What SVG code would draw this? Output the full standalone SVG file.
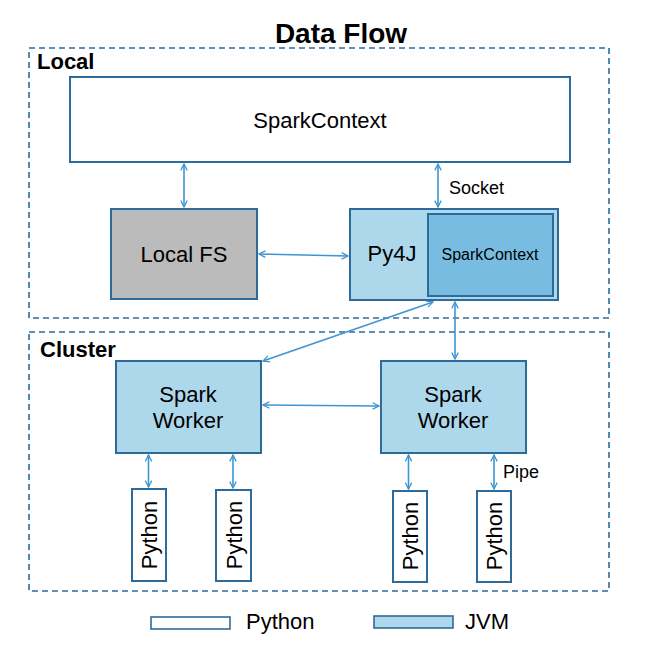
<svg xmlns="http://www.w3.org/2000/svg" width="647" height="646" viewBox="0 0 647 646">
<style>
text{font-family:"Liberation Sans",Arial,sans-serif;fill:#000}
.t22{font-size:22px;text-anchor:middle}
.b22{font-size:22px;font-weight:bold}
.lbl{font-size:18px}
.box{stroke:#2f6b9a;stroke-width:2}
.py{fill:#fff}
.jvm{fill:#add8ec}
.dash{fill:none;stroke:#2f6b9a;stroke-width:1.6;stroke-dasharray:6,4}
.conn{stroke:#3e95d1;stroke-width:1.6;fill:none;marker-start:url(#ah);marker-end:url(#ah)}
</style>
<defs>
<marker id="ah" viewBox="0 0 10 10" refX="9" refY="5" markerWidth="8" markerHeight="8" markerUnits="userSpaceOnUse" orient="auto-start-reverse">
<path d="M1,1 L9,5 L1,9" fill="none" stroke="#3e95d1" stroke-width="1.6"/>
</marker>
</defs>
<rect width="647" height="646" fill="#fff"/>
<text x="341" y="43" style="font-size:28px;font-weight:bold;text-anchor:middle">Data Flow</text>
<g id="local-group">
<rect class="dash" x="29" y="48" width="580" height="270"/>
<text class="b22" x="37" y="69">Local</text>
</g>
<g id="cluster-group">
<rect class="dash" x="29" y="332" width="580" height="259"/>
<text class="b22" x="40" y="357">Cluster</text>
</g>
<g id="sparkcontext-py">
<rect class="box py" x="70" y="77" width="500" height="85"/>
<text class="t22" x="320" y="128">SparkContext</text>
</g>
<g id="local-fs">
<rect class="box" fill="#bbbbbb" x="111" y="209" width="146" height="90"/>
<text class="t22" x="184" y="262">Local FS</text>
</g>
<g id="py4j">
<rect class="box jvm" x="350" y="209" width="208" height="91"/>
<text class="t22" x="392" y="261">Py4J</text>
<rect class="box" fill="#78bde1" x="428" y="214" width="125" height="82"/>
<text x="490" y="260" style="font-size:16px;text-anchor:middle">SparkContext</text>
</g>
<g id="worker1">
<rect class="box jvm" x="116" y="361" width="145" height="92"/>
<text class="t22" x="188" y="402">Spark</text>
<text class="t22" x="188" y="428">Worker</text>
</g>
<g id="worker2">
<rect class="box jvm" x="381" y="361" width="145" height="92"/>
<text class="t22" x="453" y="402">Spark</text>
<text class="t22" x="453" y="428">Worker</text>
</g>
<g id="python1">
<rect class="box py" x="132" y="489" width="34" height="92"/>
<text class="t22" transform="translate(149,535) rotate(-90)" y="8">Python</text>
</g>
<g id="python2">
<rect class="box py" x="216" y="490" width="35" height="91"/>
<text class="t22" transform="translate(233.5,535) rotate(-90)" y="8">Python</text>
</g>
<g id="python3">
<rect class="box py" x="393" y="491" width="34" height="91"/>
<text class="t22" transform="translate(410,536) rotate(-90)" y="8">Python</text>
</g>
<g id="python4">
<rect class="box py" x="477" y="491" width="34" height="91"/>
<text class="t22" transform="translate(494,536) rotate(-90)" y="8">Python</text>
</g>
<g id="connectors">
<line class="conn" x1="184" y1="164" x2="184" y2="207"/>
<line class="conn" x1="438" y1="164" x2="438" y2="207"/>
<line class="conn" x1="259" y1="254" x2="348" y2="256"/>
<line class="conn" x1="433" y1="302" x2="263" y2="361"/>
<line class="conn" x1="455" y1="302" x2="455" y2="359"/>
<line class="conn" x1="263" y1="405" x2="379" y2="406"/>
<line class="conn" x1="148.5" y1="455" x2="148.5" y2="487"/>
<line class="conn" x1="233" y1="455" x2="233" y2="488"/>
<line class="conn" x1="408.5" y1="455" x2="408.5" y2="489"/>
<line class="conn" x1="494" y1="455" x2="494" y2="489"/>
<text class="lbl" x="449" y="194">Socket</text>
<text class="lbl" x="503" y="478">Pipe</text>
</g>
<g id="legend">
<rect x="151" y="617" width="79" height="12" fill="#fff" stroke="#2f6b9a" stroke-width="1.6"/>
<text x="246" y="629" style="font-size:22px">Python</text>
<rect x="374" y="616" width="79" height="12" fill="#add8ec" stroke="#2f6b9a" stroke-width="1.6"/>
<text x="465" y="629" style="font-size:22px">JVM</text>
</g>
</svg>
